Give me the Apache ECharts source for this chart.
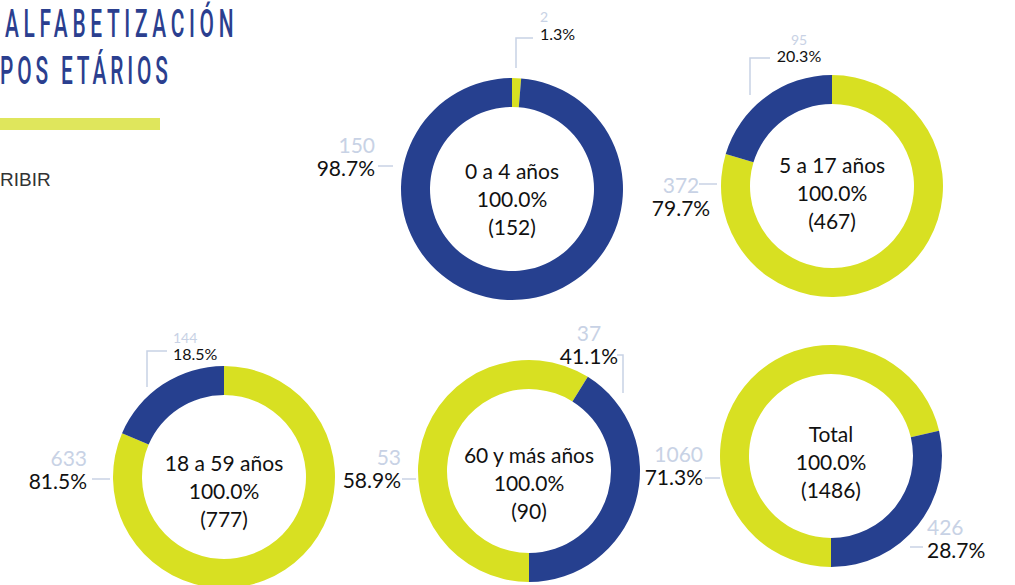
<!DOCTYPE html>
<html>
<head>
<meta charset="utf-8">
<script src="https://cdn.jsdelivr.net/npm/echarts@6/dist/echarts.min.js"></script>
<style>
  html, body { margin: 0; padding: 0; background: #fff; }
  #main { width: 1015px; height: 585px; }
</style>
</head>
<body>
<div id="main"></div>
<script>
const groups = ['0 a 4 años', '5 a 17 años', '18 a 59 años', '60 y más años', 'Total'];
const sabe = [2, 372, 633, 53, 1060];
const noSabe = [150, 95, 144, 37, 426];
const sliceNames = ['Sabe leer y escribir', 'No sabe leer ni escribir'];

const blue = '#26408f';
const lime = '#d8e022';
const pale = '#c8d2e5';
const font = 'Lato, "Noto Sans", sans-serif';

// donut geometry
const centers = [[512, 189], [832, 186], [224, 477], [529, 471], [831, 456]];
const startAngles = [90, 90, 90, -90, -90];
const textShift = [9, 6, 13, 11, 5];

// label placement, relative to the donut centre (index 0 = lime slice, 1 = blue slice)
const labelSpots = [
    [
        { line: [[4, -121], [4, -151], [21, -151]], at: [28, -164], align: 'left', small: true },
        { line: [[-119, -23], [-126, -23], [-134, -23]], at: [-137, -33], align: 'right' }
    ],
    [
        { line: [[-115, -2], [-124, -2], [-133, -2]], at: [-151, 9.5], align: 'center' },
        { line: [[-82, -91], [-82, -128], [-62, -128]], at: [-33, -138.5], align: 'center', small: true }
    ],
    [
        { line: [[-114, 2], [-123, 2], [-132, 2]], at: [-137, -8], align: 'right' },
        { line: [[-77, -90], [-77, -126], [-57, -126]], at: [-51, -131.5], align: 'left', small: true }
    ],
    [
        { line: [[-113, 8], [-120, 8], [-127, 8]], at: [-128, -3.5], align: 'right' },
        { line: [[94, -78], [94, -116], [88, -116]], at: [60, -127], align: 'center' }
    ],
    [
        { line: [[-111, 22], [-118, 22], [-126, 22]], at: [-128, 9], align: 'right' },
        { line: [[79, 91], [86, 91], [92, 91]], at: [96, 81.5], align: 'left' }
    ]
];

const chartDom = document.getElementById('main');
const myChart = echarts.init(chartDom, null, { renderer: 'svg' });

const series = groups.map((g, i) => ({
    type: 'pie',
    name: g,
    center: centers[i],
    radius: [82, 111],
    startAngle: startAngles[i],
    clockwise: true,
    avoidLabelOverlap: false,
    percentPrecision: 1,
    silent: true,
    animation: false,
    label: {
        show: true,
        fontFamily: font,
        formatter: p => {
            const s = labelSpots[i][p.dataIndex].small ? 's' : '';
            return '{v' + s + '|' + p.value + '}\n{p' + s + '|' + p.percent.toFixed(1) + '%}';
        },
        rich: {
            v: { fontFamily: font, fontSize: 21, lineHeight: 23, color: pale },
            p: { fontFamily: font, fontSize: 21, lineHeight: 23, color: '#111' },
            vs: { fontFamily: font, fontSize: 14, lineHeight: 16, color: pale },
            ps: { fontFamily: font, fontSize: 16, lineHeight: 17, color: '#111' }
        }
    },
    labelLine: { show: true, lineStyle: { color: pale, width: 1.5 } },
    labelLayout: p => {
        const spot = labelSpots[i][p.dataIndex];
        const [cx, cy] = centers[i];
        return {
            x: cx + spot.at[0],
            y: cy + spot.at[1],
            align: spot.align,
            verticalAlign: 'middle',
            labelLinePoints: spot.line.map(([dx, dy]) => [cx + dx, cy + dy])
        };
    },
    data: [
        { name: sliceNames[0], value: sabe[i], itemStyle: { color: lime } },
        { name: sliceNames[1], value: noSabe[i], itemStyle: { color: blue } }
    ]
}));

// texts in the middle of each donut
const centerTexts = groups.map((g, i) => ({
    type: 'text',
    x: centers[i][0],
    y: centers[i][1] + textShift[i],
    silent: true,
    style: {
        text: g + '\n100.0%\n(' + (sabe[i] + noSabe[i]) + ')',
        fontFamily: font,
        fontSize: 21,
        lineHeight: 28,
        fill: '#111',
        align: 'center',
        verticalAlign: 'middle'
    }
}));

const titleStyle = { fontFamily: 'Roboto', fontWeight: 500, fontSize: 38, fill: '#2b3f8f', verticalAlign: 'middle' };

const option = {
    animation: false,
    series: series,
    graphic: [
        {
            type: 'text', x: 5, y: 24, scaleX: 0.55, silent: true,
            style: Object.assign({ text: 'ALFABETIZACIÓN' }, titleStyle)
        },
        {
            type: 'text', x: 0, y: 71, scaleX: 0.55, silent: true,
            style: Object.assign({ text: 'POS ETÁRIOS' }, titleStyle)
        },
        {
            type: 'rect', silent: true,
            shape: { x: 0, y: 118, width: 160, height: 12 },
            style: { fill: '#dfe65c' }
        },
        {
            type: 'text', x: 0, y: 179, silent: true,
            style: { text: 'RIBIR', fontFamily: '"Liberation Sans"', fontSize: 19, fill: '#333', verticalAlign: 'middle' }
        }
    ].concat(centerTexts)
};

myChart.setOption(option);

// spread out the title letters (tracked caps)
const tracking = { 'ALFABETIZACIÓN': '8.5', 'POS ETÁRIOS': '7' };
function trackTitles() {
    chartDom.querySelectorAll('text').forEach(t => {
        const s = t.textContent;
        if (tracking[s]) {
            t.setAttribute('letter-spacing', tracking[s]);
        }
    });
}
myChart.on('finished', trackTitles);
setTimeout(trackTitles, 50);
</script>
</body>
</html>
